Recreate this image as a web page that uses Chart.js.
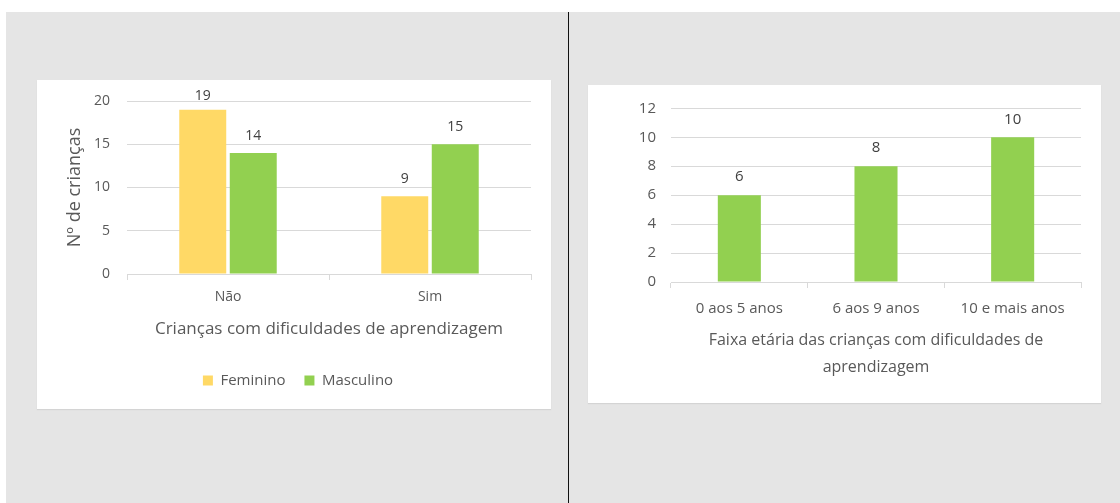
<!DOCTYPE html>
<html>
<head>
<meta charset="utf-8">
<script src="https://cdn.jsdelivr.net/npm/chart.js@4"></script>
<style>
body { margin: 0; width: 1120px; height: 503px; background: #fff; position: relative; overflow: hidden; }
#bg { position: absolute; left: 6px; top: 12px; right: 0; bottom: 0; background: #e5e5e5; }
#divider { position: absolute; left: 568px; top: 12px; width: 1px; bottom: 0; background: #111; }
.panel { position: absolute; background: #fff; box-shadow: 0 1px 1px #d4d4d4; }
#p1 { left: 37px; top: 80px; width: 514px; height: 329px; }
#p2 { left: 588px; top: 85px; width: 513px; height: 318px; }
canvas { display: block; }
</style>
</head>
<body>
<div id="bg"></div>
<div id="divider"></div>
<div class="panel" id="p1"><canvas id="chartGender" width="514" height="329"></canvas></div>
<div class="panel" id="p2"><canvas id="chartAge" width="513" height="318"></canvas></div>

<script>
// left chart
const difficultyCats = ["Não", "Sim"];
const feminino = [19, 9];
const masculino = [14, 15];
const genderTicks = [0, 5, 10, 15, 20];

// right chart
const ageCats = ["0 aos 5 anos", "6 aos 9 anos", "10 e mais anos"];
const ageCounts = [6, 8, 10];
const ageTicks = [0, 2, 4, 6, 8, 10, 12];

const YELLOW = "#FFD966";
const GREEN = "#92D050";
const GRID = "#d9d9d9";
const TEXT = "#595959";

// small plugin to write the value above each bar
const valueLabels = {
    id: "valueLabels",
    afterDatasetsDraw(chart, args, opts) {
        const ctx = chart.ctx;
        ctx.save();
        ctx.font = opts.font;
        ctx.fillStyle = opts.color;
        ctx.textAlign = "center";
        ctx.textBaseline = "middle";
        chart.data.datasets.forEach((ds, i) => {
            chart.getDatasetMeta(i).data.forEach((bar, j) => {
                const y = Math.max(bar.y - opts.offset, chart.chartArea.top - 5);
                ctx.fillText(ds.data[j], bar.x, y);
            });
        });
        ctx.restore();
    }
};

// nudge the legend sideways (Excel centres it on the whole chart object)
const legendShift = {
    id: "legendShift",
    afterLayout(chart, args, opts) {
        if (chart.legend) {
            chart.legend.left += opts.dx;
            chart.legend.right += opts.dx;
        }
    }
};

function fixWidth(w) {
    return scale => {
        scale.width = w;
        scale.paddingTop = 0;
        scale.paddingBottom = 0;
    };
}
function fixHeight(h) { return scale => { scale.height = h; }; }

const leftFont = "'Open Sans', sans-serif";
const rightFont = "'Open Sans', sans-serif";

new Chart(document.getElementById("chartGender").getContext("2d"), {
    type: "bar",
    plugins: [valueLabels, legendShift],
    data: {
        labels: difficultyCats,
        datasets: [
            { label: "Feminino", data: feminino, backgroundColor: YELLOW,
              categoryPercentage: 0.5, barPercentage: 0.93 },
            { label: "Masculino", data: masculino, backgroundColor: GREEN,
              categoryPercentage: 0.5, barPercentage: 0.93 }
        ]
    },
    options: {
        responsive: false,
        animation: false,
        layout: { padding: { left: 0, right: 20, top: 21, bottom: 11 } },
        plugins: {
            tooltip: { enabled: false },
            legend: {
                position: "bottom",
                labels: {
                    boxWidth: 10, boxHeight: 10, padding: 19,
                    color: TEXT, font: { family: leftFont, size: 15 }
                }
            },
            legendShift: { dx: 14 },
            valueLabels: { font: "14px " + leftFont, color: "#404040", offset: 17 }
        },
        scales: {
            x: {
                afterFit: fixHeight(80),
                grid: { display: true, drawOnChartArea: false, tickLength: 6, color: GRID },
                border: { color: GRID },
                ticks: { color: TEXT, padding: 9, font: { family: leftFont, size: 14 } },
                title: {
                    display: true, text: "Crianças com dificuldades de aprendizagem",
                    color: TEXT, font: { family: leftFont, size: 17 },
                    padding: { top: 0, bottom: 15 }
                }
            },
            y: {
                min: 0, max: 20,
                afterFit: fixWidth(90),
                afterBuildTicks: s => { s.ticks = genderTicks.map(v => ({ value: v })); },
                grid: { color: GRID, drawTicks: false },
                border: { display: false },
                ticks: { color: TEXT, padding: 17, font: { family: leftFont, size: 14 } },
                title: {
                    display: true, text: "Nº de crianças",
                    color: TEXT, font: { family: leftFont, size: 18 },
                    padding: { top: 27, bottom: 0 }
                }
            }
        }
    }
});

new Chart(document.getElementById("chartAge").getContext("2d"), {
    type: "bar",
    plugins: [valueLabels],
    data: {
        labels: ageCats,
        datasets: [
            { label: "Crianças", data: ageCounts, backgroundColor: GREEN,
              categoryPercentage: 0.315, barPercentage: 1 }
        ]
    },
    options: {
        responsive: false,
        animation: false,
        layout: { padding: { left: 0, right: 20, top: 23.3, bottom: 0 } },
        plugins: {
            tooltip: { enabled: false },
            legend: { display: false },
            valueLabels: { font: "15px " + rightFont, color: "#404040", offset: 18 }
        },
        scales: {
            x: {
                afterFit: fixHeight(121),
                grid: { display: true, drawOnChartArea: false, tickLength: 6, color: GRID },
                border: { color: GRID },
                ticks: { color: TEXT, padding: 12, font: { family: rightFont, size: 15 } },
                title: {
                    display: true,
                    text: ["Faixa etária das crianças com dificuldades de", "aprendizagem"],
                    color: TEXT, font: { family: rightFont, size: 16, lineHeight: 1.69 },
                    padding: { top: 0, bottom: 22 }
                }
            },
            y: {
                min: 0, max: 12,
                afterFit: fixWidth(83),
                afterBuildTicks: s => { s.ticks = ageTicks.map(v => ({ value: v })); },
                grid: { color: GRID, drawTicks: false },
                border: { display: false },
                ticks: { color: TEXT, padding: 15, font: { family: rightFont, size: 15 } }
            }
        }
    }
});
</script>
</body>
</html>
